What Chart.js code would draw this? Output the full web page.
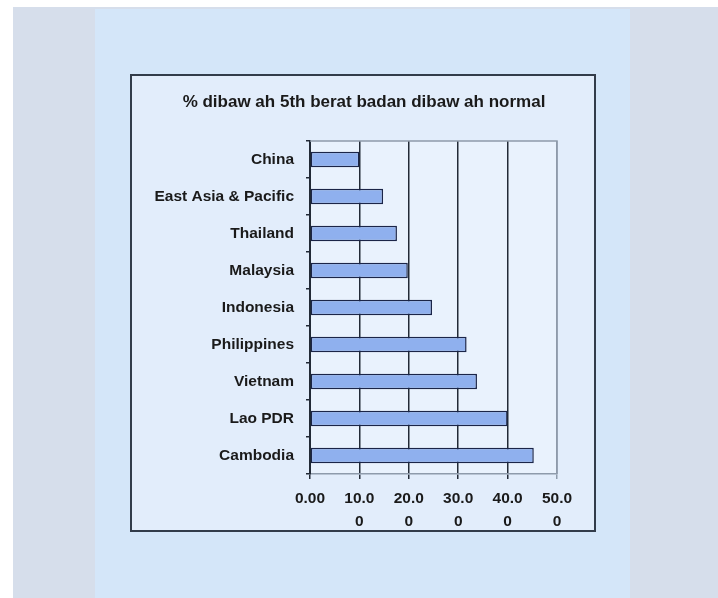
<!DOCTYPE html>
<html>
<head>
<meta charset="utf-8">
<script src="https://cdn.jsdelivr.net/npm/chart.js@4/dist/chart.umd.min.js"></script>
<style>
  body { margin: 0; background: #ffffff; width: 718px; height: 598px; position: relative; overflow: hidden; }
  .outer { position: absolute; left: 13px; top: 7px; width: 705px; height: 591px; background: #d6deeb; }
  .panel { position: absolute; left: 95px; top: 9px; width: 535px; height: 589px; background: #d4e6f9; }
  .box { position: absolute; left: 130px; top: 74px; width: 462px; height: 454px; border: 2px solid #323c4a; background: #e2edfb; }
  canvas { display: block; }
</style>
</head>
<body>
<div class="outer"></div>
<div class="panel"></div>
<div class="box"><canvas id="chart" width="462" height="454"></canvas></div>
<script>
const titleText = '% dibaw ah 5th berat badan dibaw ah normal';
const countries = ['China', 'East Asia & Pacific', 'Thailand', 'Malaysia', 'Indonesia',
                   'Philippines', 'Vietnam', 'Lao PDR', 'Cambodia'];
const underweight = [10.0, 14.8, 17.6, 19.8, 24.7, 31.7, 33.8, 40.0, 45.3];
const xTickLabels = ['0.00', '10.00', '20.00', '30.00', '40.00', '50.00'];

const fontFamily = '"Liberation Sans", Arial, sans-serif';

// plot background, grey frame round the plot, and the title centred on the whole box
const plotFrame = {
  id: 'plotFrame',
  beforeDraw(chart) {
    const a = chart.chartArea, ctx = chart.ctx;
    ctx.save();
    ctx.fillStyle = '#e9f2fd';
    ctx.fillRect(a.left, a.top, a.right - a.left, a.bottom - a.top);
    ctx.fillStyle = '#1a1a1a';
    ctx.font = 'bold 17px ' + fontFamily;
    ctx.textAlign = 'center';
    ctx.textBaseline = 'middle';
    ctx.fillText(titleText, chart.width / 2 + 1, 26);
    ctx.restore();
  },
  afterDatasetsDraw(chart) {
    const a = chart.chartArea, ctx = chart.ctx;
    ctx.save();
    ctx.strokeStyle = '#8e9bab';
    ctx.lineWidth = 1.5;
    ctx.beginPath();
    ctx.moveTo(a.left, a.top);
    ctx.lineTo(a.right, a.top);
    ctx.lineTo(a.right, a.bottom);
    ctx.stroke();
    ctx.restore();
  }
};

const font = { family: fontFamily, weight: 'bold' };

new Chart(document.getElementById('chart'), {
  type: 'bar',
  data: {
    labels: countries,
    datasets: [{
      data: underweight,
      backgroundColor: '#8fb0ee',
      borderColor: '#1b2548',
      borderWidth: 1.5,
      borderSkipped: false,
      barPercentage: 0.42,
      categoryPercentage: 1
    }]
  },
  options: {
    indexAxis: 'y',
    responsive: false,
    animation: false,
    layout: { padding: { left: 0, right: 37, top: 65, bottom: 0 } },
    plugins: {
      legend: { display: false },
      tooltip: { enabled: false },
      title: { display: false }
    },
    scales: {
      x: {
        min: 0,
        max: 50,
        afterFit(scale) { scale.height = 56; },
        ticks: {
          stepSize: 10,
          color: '#1a1a1a',
          font: { ...font, size: 15.5, lineHeight: 1.5 },
          padding: 8,
          maxRotation: 0,
          autoSkip: false,
          callback: (v, i) => {
            const s = xTickLabels[i];
            return s.length > 4 ? [s.slice(0, 4), s.slice(4)] : s;
          }
        },
        grid: {
          color: ctx => ctx.tick && ctx.tick.value === 50 ? '#8e9bab' : '#222a36',
          lineWidth: 1.5,
          tickLength: 5
        },
        border: { display: true, color: '#8e9bab', width: 1.5 }
      },
      y: {
        afterFit(scale) { scale.width = 178; },
        ticks: {
          color: '#1a1a1a',
          font: { ...font, size: 15.5 },
          padding: 12
        },
        grid: {
          offset: true,
          drawOnChartArea: false,
          color: '#222a36',
          lineWidth: 1.5,
          tickLength: 4
        },
        border: { display: true, color: '#222a36', width: 2 }
      }
    }
  },
  plugins: [plotFrame]
});
</script>
</body>
</html>
